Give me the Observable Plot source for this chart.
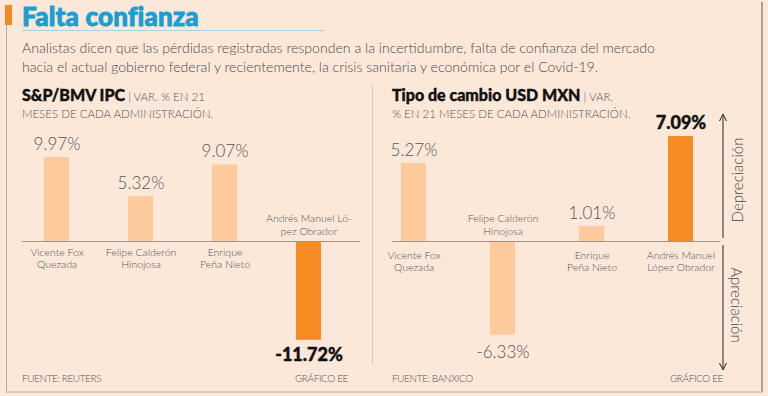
<!DOCTYPE html>
<html>
<head>
<meta charset="utf-8">
<script src="https://cdn.jsdelivr.net/npm/d3@7"></script>
<script src="https://cdn.jsdelivr.net/npm/@observablehq/plot@0.6"></script>
<style>
  html, body { margin: 0; padding: 0; }
  body { width: 768px; height: 396px; overflow: hidden; background: #fce8d9; font-family: Lato, "Open Sans", sans-serif; }
  #page { position: relative; width: 768px; height: 396px; background: #fce8d9; }
  .abs { position: absolute; white-space: nowrap; }
  #title { left: 22px; top: 0px; font-size: 26px; font-weight: 900; color: #1a9ed3; letter-spacing: 0.2px; -webkit-text-stroke: 0.9px #1a9ed3; }
  #subtitle { left: 22px; top: 38px; font-size: 14.1px; line-height: 19px; color: #4a4a4a; font-weight: 300; }
  .head { font-size: 11.5px; color: #555; line-height: 17px; font-weight: 300; }
  .head b { font-size: 16px; color: #111; font-weight: 900; -webkit-text-stroke: 0.4px #111; }
  .foot { font-size: 10px; color: #555; font-weight: 300; top: 372px; letter-spacing: -0.4px; }
  .rot { font-size: 15px; color: #444; font-weight: 300; }
  svg.plot { position: absolute; left: 0; top: 0; overflow: visible; }
</style>
</head>
<body>
<div id="page">
  <svg class="abs" style="left:0;top:0" width="768" height="396">
    <rect x="5" y="5" width="7" height="20" fill="#f28a24"></rect>
    <line x1="6.5" y1="25" x2="6.5" y2="392" stroke="#b9aa9c" stroke-width="1"></line>
    <line x1="6" y1="392" x2="762" y2="392" stroke="#b9aa9c" stroke-width="1.2"></line>
    <line x1="762" y1="2" x2="762" y2="392" stroke="#9c8a7c" stroke-width="1.5"></line>
    <line x1="22" y1="30.5" x2="325" y2="30.5" stroke="#a6d3e6" stroke-width="1"></line>
    <line x1="372.5" y1="85" x2="372.5" y2="365" stroke="#d8c9bc" stroke-width="1"></line>
    <line x1="723" y1="238" x2="723" y2="116" stroke="#222" stroke-width="1"></line>
    <path d="M719.5,121 L723,114 L726.5,121" fill="none" stroke="#222" stroke-width="1"></path>
    <line x1="723" y1="245" x2="723" y2="368" stroke="#222" stroke-width="1"></line>
    <path d="M719.5,363 L723,370 L726.5,363" fill="none" stroke="#222" stroke-width="1"></path>
  </svg>
  <div id="title" class="abs">Falta confianza</div>
  <div id="subtitle" class="abs">Analistas dicen que las pérdidas registradas responden a la incertidumbre, falta de confianza del mercado<br>hacia el actual gobierno federal y recientemente, la crisis sanitaria y económica por el Covid-19.</div>
  <div class="abs head" style="left:22px;top:86px"><b>S&amp;P/BMV IPC</b> | VAR. % EN 21<br>MESES DE CADA ADMINISTRACIÓN.</div>
  <div class="abs head" style="left:392px;top:86px"><b>Tipo de cambio USD MXN</b> | VAR.<br>% EN 21 MESES DE CADA ADMINISTRACIÓN.</div>
  <div class="abs foot" style="left:22px">FUENTE: REUTERS</div>
  <div class="abs foot" style="right:420px">GRÁFICO EE</div>
  <div class="abs foot" style="left:392px">FUENTE: BANXICO</div>
  <div class="abs foot" style="right:45px">GRÁFICO EE</div>
  <div class="abs rot" style="left:737px;top:180px;transform:translate(-50%,-50%) rotate(-90deg)">Depreciación</div>
  <div class="abs rot" style="left:737px;top:305px;transform:translate(-50%,-50%) rotate(90deg)">Apreciación</div>
</div>
<script>
// ---- data ----
const administraciones = ["Fox", "Calderón", "Peña Nieto", "AMLO"];
const etiquetasIPC = ["Vicente Fox\nQuezada", "Felipe Calderón\nHinojosa", "Enrique\nPeña Nieto", "Andrés Manuel Ló-\npez Obrador"];
const etiquetasFX = ["Vicente Fox\nQuezada", "Felipe Calderón\nHinojosa", "Enrique\nPeña Nieto", "Andrés Manuel\nLópez Obrador"];
const ipcValores = [9.97, 5.32, 9.07, -11.72];
const fxValores = [5.27, -6.33, 1.01, 7.09];
const destacado = "AMLO";

const light = "#fdca9b", dark = "#f58b22";
const font = "Lato, 'Open Sans', sans-serif";

function makeChart(values, labels, cfg) {
  const data = administraciones.map((k, i) => ({key: k, value: values[i], label: labels[i], hl: k === destacado}));
  const pos = data.filter(d => d.value >= 0), neg = data.filter(d => d.value < 0);
  const fmt = v => v.toFixed(2) + "%";
  const lightData = data.filter(d => !d.hl), hlData = data.filter(d => d.hl);
  return Plot.plot({
    width: 768, height: 396,
    marginLeft: cfg.ml, marginRight: cfg.mr, marginTop: 0, marginBottom: 0,
    style: {background: "transparent", fontFamily: font, overflow: "visible"},
    x: {type: "band", domain: administraciones, range: cfg.xr, paddingInner: cfg.pi, paddingOuter: cfg.pi / 2, axis: null},
    y: {domain: cfg.yd, range: cfg.yr, axis: null},
    marks: [
      Plot.barY(data, {x: "key", y: "value", fill: d => d.hl ? dark : light}),
      Plot.ruleY([0], {stroke: "#a09388", strokeWidth: 1}),
      // value labels
      Plot.text(lightData, {x: "key", y: "value", text: d => fmt(d.value), fontSize: 17, fontWeight: 300, fill: "#555",
        filter: d => d.value >= 0, dy: -13}),
      Plot.text(lightData, {x: "key", y: "value", text: d => fmt(d.value), fontSize: 17, fontWeight: 300, fill: "#555",
        filter: d => d.value < 0, dy: 17}),
      Plot.text(hlData, {x: "key", y: "value", text: d => fmt(d.value), fontSize: 18, fontWeight: 900, fill: "#111",
        stroke: "#111", strokeWidth: 0.4, filter: d => d.value >= 0, dy: -13}),
      Plot.text(hlData, {x: "key", y: "value", text: d => fmt(d.value), fontSize: 18, fontWeight: 900, fill: "#111",
        stroke: "#111", strokeWidth: 0.4, filter: d => d.value < 0, dy: 15}),
      // category labels
      Plot.text(pos, {x: "key", y: 0, text: "label", lineAnchor: "top", dy: cfg.below, fontSize: 10.5, lineHeight: 1.15, fill: "#555", fontWeight: 300}),
      Plot.text(neg, {x: "key", y: 0, text: "label", lineAnchor: "bottom", dy: -7, fontSize: 10.5, lineHeight: 1.15, fill: "#555", fontWeight: 300})
    ]
  });
}

const left = makeChart(ipcValores, etiquetasIPC, {
  ml: 22, mr: 408, xr: [14.4, 351.6], pi: 0.7,
  yd: [-12, 10], yr: [241 + 12 * 8.43, 241 - 10 * 8.43], below: 6
});
const right = makeChart(fxValores, etiquetasFX, {
  ml: 392, mr: 48, xr: [367.7, 726.4], pi: 0.72,
  yd: [-7, 8], yr: [241 + 7 * 14.8, 241 - 8 * 14.8], below: 9
});
left.classList.add("plot"); right.classList.add("plot");
document.getElementById("page").append(left, right);
</script>
</body>
</html>
